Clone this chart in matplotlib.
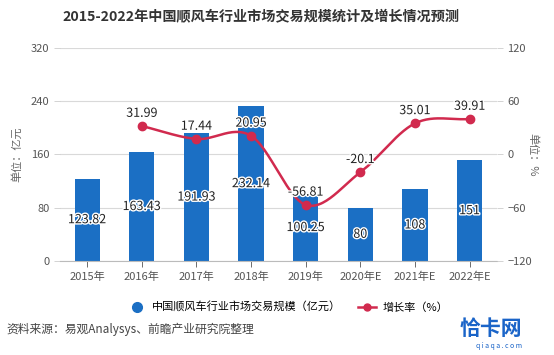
import numpy as np
import matplotlib
matplotlib.use("Agg")
import matplotlib.pyplot as plt
import matplotlib.patheffects as pe

plt.rcParams['font.family'] = ['Noto Sans CJK SC', 'DejaVu Sans']

categories = ["2015年", "2016年", "2017年", "2018年", "2019年", "2020年E", "2021年E", "2022年E"]
scale = [123.82, 163.43, 191.93, 232.14, 100.25, 80, 108, 151]
scale_labels = ["123.82", "163.43", "191.93", "232.14", "100.25", "80", "108", "151"]
growth_idx = [1, 2, 3, 4, 5, 6, 7]
growth = [31.99, 17.44, 20.95, -56.81, -20.1, 35.01, 39.91]
growth_labels = ["31.99", "17.44", "20.95", "-56.81", "-20.1", "35.01", "39.91"]

BLUE = "#1b6fc4"
RED = "#d12a4e"

fig = plt.figure(figsize=(5.54, 3.55), dpi=100)
ax = fig.add_axes([0.108, 0.265, 0.789, 0.600])
x = np.arange(len(categories))

ax.bar(x, scale, width=0.46, color=BLUE, zorder=2)
ax.set_ylim(0, 320)
ax.set_yticks([0, 80, 160, 240, 320])
ax.set_xlim(-0.5, len(categories) - 0.5)
ax.set_xticks(x)
ax.set_xticklabels(categories)
ax.grid(axis='y', color='#d9d9d9', lw=0.8, zorder=0)
for s in ['top', 'right', 'left']:
    ax.spines[s].set_visible(False)
ax.spines['bottom'].set_color('#bbbbbb')
ax.tick_params(axis='both', labelsize=8, colors='#555555', length=4, width=0.6)
ax.tick_params(axis='y', color='#cccccc')
ax.set_ylabel("单位：亿元", fontsize=8, color='#666666', labelpad=6)

for xi, v, lab in zip(x, scale, scale_labels):
    ax.text(xi, v / 2, lab, ha='center', va='center', fontsize=9, color='#222222',
            path_effects=[pe.withStroke(linewidth=2, foreground='white')], zorder=4)

ax2 = ax.twinx()
ax2.set_ylim(-120, 120)
ax2.set_yticks([-120, -60, 0, 60, 120])
for s in ['top', 'right', 'left', 'bottom']:
    ax2.spines[s].set_visible(False)
ax2.tick_params(axis='y', labelsize=8, colors='#555555', length=4, width=0.6)
ax2.tick_params(axis='y', color='#cccccc')
ax2.set_ylabel("单位：%", fontsize=8, color='#666666', rotation=270, labelpad=4)

# Catmull-Rom smoothing for drawing the line
px = np.array(growth_idx, dtype=float)
py = np.array(growth, dtype=float)
P = np.column_stack([px, py])
Pext = np.vstack([2 * P[0] - P[1], P, 2 * P[-1] - P[-2]])
xs, ys = [], []
t = np.linspace(0, 1, 30)
for i in range(1, len(Pext) - 2):
    p0, p1, p2, p3 = Pext[i - 1], Pext[i], Pext[i + 1], Pext[i + 2]
    seg = 0.5 * ((2 * p1)[None, :] + (-p0 + p2)[None, :] * t[:, None]
                 + (2 * p0 - 5 * p1 + 4 * p2 - p3)[None, :] * (t ** 2)[:, None]
                 + (-p0 + 3 * p1 - 3 * p2 + p3)[None, :] * (t ** 3)[:, None])
    xs.extend(seg[:, 0]); ys.extend(seg[:, 1])
ax2.plot(xs, ys, color=RED, lw=1.8, zorder=3)
ax2.plot(px, py, 'o', color=RED, ms=6, zorder=4)
for xi, v, lab in zip(px, py, growth_labels):
    ax2.text(xi, v + 7, lab, ha='center', va='bottom', fontsize=9, color='#222222',
             path_effects=[pe.withStroke(linewidth=2, foreground='white')], zorder=5)

fig.text(0.471, 0.952, "2015-2022年中国顺风车行业市场交易规模统计及增长情况预测",
         ha='center', va='center', fontsize=10.2, fontweight='bold', color='#333333')

from matplotlib.lines import Line2D
handles = [Line2D([], [], marker='o', ls='none', color=BLUE, ms=7),
           Line2D([], [], marker='o', color=RED, ms=5, lw=1.8)]
fig.legend(handles, ["中国顺风车行业市场交易规模（亿元）", "增长率（%）"],
           loc='center', bbox_to_anchor=(0.52, 0.135), ncol=2, frameon=False,
           fontsize=8, handlelength=1.6, columnspacing=1.5, handletextpad=0.6)

fig.text(0.012, 0.072, "资料来源：易观Analysys、前瞻产业研究院整理", ha='left', va='center',
         fontsize=8.5, color='#444444')
fig.text(0.83, 0.075, "恰卡网", ha='left', va='center', fontsize=15, fontweight='bold', color='#1a64c8')
fig.text(0.86, 0.025, "q i a q a . c o m", ha='left', va='center', fontsize=5, color='#1a64c8')

fig.savefig("out.png", dpi=100)
